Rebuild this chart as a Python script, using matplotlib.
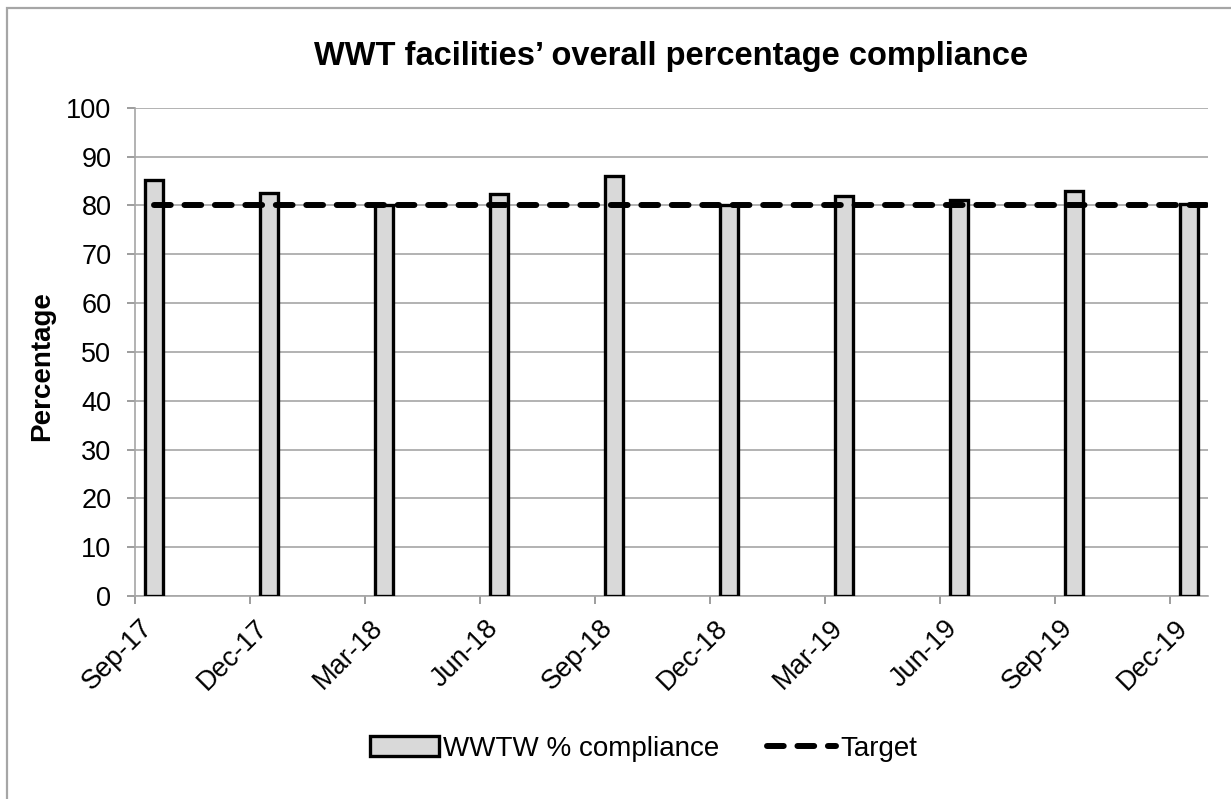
import numpy as np
import matplotlib.pyplot as plt
import matplotlib.transforms as mtransforms
from matplotlib.patches import Rectangle

# Quarterly compliance readings
quarters = ['Sep-17', 'Dec-17', 'Mar-18', 'Jun-18', 'Sep-18',
            'Dec-18', 'Mar-19', 'Jun-19', 'Sep-19', 'Dec-19']
compliance = [85.2, 82.5, 80.0, 82.3, 86.0, 80.0, 82.0, 81.0, 83.0, 80.3]
target = 80
months_per_step = 3

plt.rcParams['font.family'] = ['Liberation Sans', 'DejaVu Sans']

fig = plt.figure(figsize=(12.31, 7.99), dpi=100)
ax = fig.add_axes([0.1097, 0.254, 0.8716, 0.6112])

# outer chart frame (only left/top visible in the original)
fig.patches.append(Rectangle((7 / 1231, -0.1), 1.2, 1 - 8 / 799 + 0.1,
                             transform=fig.transFigure, fill=False,
                             edgecolor='#a6a6a6', linewidth=1.6))

# month-based date axis: each bar sits in the middle of its month slot
tick_pos = np.arange(len(quarters)) * months_per_step
bar_pos = tick_pos + 0.5
x_end = tick_pos[-1] + 1

ax.bar(bar_pos, compliance, width=0.46, color='#d9d9d9',
       edgecolor='black', linewidth=2.4, label='WWTW % compliance', zorder=3)
ax.plot([bar_pos[0], x_end], [target, target], color='black', linewidth=4.3,
        linestyle=(0, (2.8, 2.3)), dash_capstyle='round', label='Target',
        zorder=4)

ax.set_xlim(tick_pos[0], x_end)
ax.set_ylim(0, 100)
ax.set_yticks(np.arange(0, 101, 10))
ax.set_xticks(tick_pos)
ax.set_xticklabels(quarters, rotation=45, ha='right', va='center',
                   rotation_mode='anchor')
ax.tick_params(axis='both', labelsize=19.5, color='#8c8c8c', length=6,
               width=1.2, labelcolor='black')
ax.tick_params(axis='x', pad=4)
ax.tick_params(axis='y', pad=11)

# move rotated labels so their ends sit just right of / below the tick
shift = mtransforms.ScaledTranslation(14 / 100, -14 / 100, fig.dpi_scale_trans)
for lbl in ax.get_xticklabels():
    lbl.set_transform(lbl.get_transform() + shift)

ax.yaxis.grid(True, color='#a6a6a6', linewidth=1.2, zorder=0)
ax.set_axisbelow(True)
for side in ['top', 'right']:
    ax.spines[side].set_visible(False)
for side in ['left', 'bottom']:
    ax.spines[side].set_color('#a6a6a6')
    ax.spines[side].set_linewidth(1.2)

ax.set_ylabel('Percentage', fontsize=20, fontweight='bold')
ax.yaxis.set_label_coords(-0.0746, 0.471)
ax.set_title("WWT facilities\u2019 overall percentage compliance",
             fontsize=23.5, fontweight='bold', pad=31)

handles, labels = ax.get_legend_handles_labels()
ax.legend(handles[::-1], labels[::-1], loc='center',
          bbox_to_anchor=(0.474, -0.313), ncol=2, frameon=False,
          fontsize=20, handlelength=2.5, handletextpad=0.15, columnspacing=1.7)

plt.savefig('out.png', dpi=100)
